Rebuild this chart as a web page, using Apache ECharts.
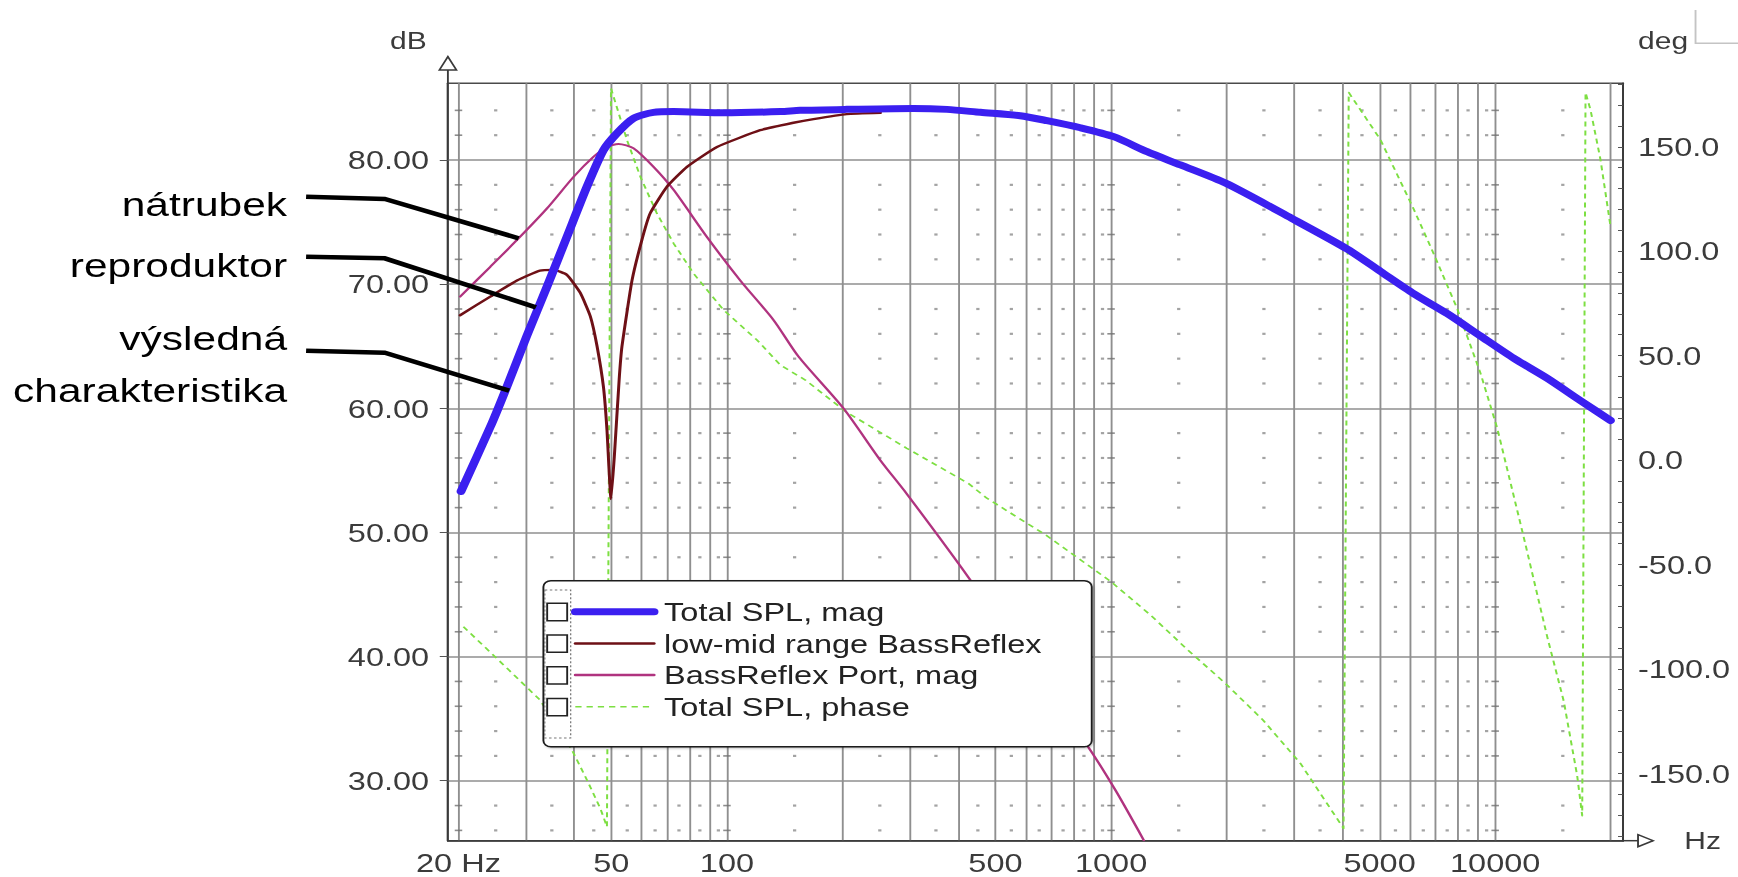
<!DOCTYPE html>
<html lang="cs">
<head>
<meta charset="utf-8">
<title>Total SPL - bass reflex</title>
<script src="https://cdn.jsdelivr.net/npm/echarts@6.0.0/dist/echarts.min.js"></script>
<style>
  html, body { margin: 0; padding: 0; background: #fff; overflow: hidden; }
  /* the source picture is stretched sideways, so draw narrower and widen it */
  #main { width: 1390px; height: 877px; transform: scaleX(1.2504); transform-origin: 0 0; }
</style>
</head>
<body>
<div id="main"></div>
<script>
// values, frequency in Hz
var totalFreq = [20.3, 24.2, 26.7, 30.1, 34.0, 38.3, 43.2, 47.7, 51.7, 57.1, 64.4, 72.6, 98, 138, 155, 205, 306, 374, 457, 580, 681, 832, 1016, 1241, 1516, 1991, 2953, 4118, 5027, 6138, 7499, 9157, 11180, 13660, 16670, 19970];
var totalDb = [53.3, 58.5, 61.7, 65.8, 69.8, 73.8, 77.85, 80.8, 82.15, 83.36, 83.84, 83.9, 83.8, 83.9, 84.0, 84.08, 84.16, 84.08, 83.84, 83.57, 83.17, 82.6, 81.88, 80.67, 79.6, 78.12, 75.3, 72.83, 71.03, 69.23, 67.63, 65.82, 64.03, 62.42, 60.62, 59.02];

var wooferFreq = [20.2, 24.2, 28.4, 32.6, 35.4, 38.3, 41.5, 44.1, 45.9, 47.7, 48.7, 49.9, 50.9, 52.4, 53.3, 56.6, 60.1, 63.1, 69.8, 78.7, 94.2, 122, 149, 168, 205, 251];
var wooferDb = [67.5, 69.0, 70.3, 71.1, 71.15, 70.75, 69.3, 67.4, 65.0, 61.7, 58.3, 52.7, 56.1, 62.3, 65.0, 70.3, 73.6, 75.7, 77.85, 79.45, 81.05, 82.4, 83.0, 83.3, 83.7, 83.8];

var portFreq = [20.2, 24.2, 28.7, 34.0, 39.9, 44.9, 48.7, 52.2, 57.1, 64.4, 72.6, 88.7, 108.3, 132.3, 153.7, 201, 251, 294, 425, 864, 1026, 1217];
var portDb = [69.0, 71.4, 73.7, 76.1, 78.65, 80.25, 81.05, 81.3, 80.95, 79.45, 77.6, 73.8, 70.3, 67.1, 64.15, 60.0, 55.8, 53.1, 46.4, 32.9, 29.25, 25.2];

var phaseFreq = [20.6, 24.9, 32.6, 39.5, 43.2, 46.8, 48.7, 49.9, 54.9, 59.5, 65.7, 72.6, 81.8, 98, 119.7, 137.7, 160, 204, 294, 425, 475, 676, 1000, 1266, 1585, 1985, 2485, 3112, 4029, 4157, 5027, 6138, 6920, 7962, 9157, 10120, 11870, 13660, 15090, 16350, 16850, 17190, 17710, 18800, 19970];
var phaseDeg = [-79.8, -94.2, -114.9, -138.9, -153.2, -166.8, -175.6, 178, 153.3, 135.7, 118.1, 103.8, 89.4, 71.8, 57.5, 45.5, 38.3, 23.1, 5.6, -11.2, -18.3, -35.9, -58.3, -74.2, -91, -107, -124.5, -145.3, -176.4, 176, 153.4, 120.1, 98.7, 72.5, 41.6, 15.4, -37, -84.6, -115.6, -151.2, -170.3, 176, 167.7, 143.9, 111.8];

// axes and grid
var freqMin = 18.77, freqMax = 21520;
var gridFreqs = [20, 30, 40, 50, 60, 70, 80, 90, 100, 200, 300, 400, 500, 600, 700, 800, 900, 1000, 2000, 3000, 4000, 5000, 6000, 7000, 8000, 9000, 10000, 20000];
var labelFreqs = [20, 50, 100, 500, 1000, 5000, 10000];
var dbTicks = [30, 40, 50, 60, 70, 80];
var degTicks = [-150, -100, -50, 0, 50, 100, 150];
var degMinorTicks = [-180, -170, -160, -150, -140, -130, -120, -110, -100, -90, -80, -70, -60, -50, -40, -30, -20, -10, 0, 10, 20, 30, 40, 50, 60, 70, 80, 90, 100, 110, 120, 130, 140, 150, 160, 170, 180];
var dotRows = [26, 28, 32, 34, 36, 38, 42, 44, 46, 48, 52, 54, 56, 58, 62, 64, 66, 68, 72, 74, 76, 78, 82, 84];
var dotFreqs = [25, 35, 45, 55, 65, 75, 85, 95, 150, 250, 350, 450, 550, 650, 750, 850, 950, 1500, 2500, 3500, 4500, 5500, 6500, 7500, 8500, 9500, 15000];
var crossFreqs = [20, 100, 1000, 10000];

var FONT = '"Liberation Sans", Arial, Helvetica, sans-serif';
var AXIS = '#3a3a3a';
var GRID = '#8f8f8f';

function toXY(freqs, vals) {
    return freqs.map(function (f, i) { return [Math.log10(f), vals[i]]; });
}
function gridMarks(freqs, rows) {
    var out = [];
    freqs.forEach(function (f) {
        rows.forEach(function (r) { out.push([Math.log10(f), r]); });
    });
    return out;
}
function lineSeries(name, freqs, vals, color, width, extra) {
    var s = {
        name: name, type: 'line', data: toXY(freqs, vals),
        symbol: 'none', showSymbol: false, color: color,
        lineStyle: { color: color, width: width, cap: 'round', join: 'round' }
    };
    for (var k in extra) s[k] = extra[k];
    return s;
}

var chart = echarts.init(document.getElementById('main'), null, { renderer: 'svg' });

var labelStyle = { fontFamily: FONT, fontSize: 26, color: '#3b3b3b' };
var rowY = [612, 643.7, 675.4, 707.1];

var phase = lineSeries('Total SPL, phase', phaseFreq, phaseDeg, '#7ddf42', 1.6, { yAxisIndex: 1 });
phase.lineStyle.type = [5, 4];
phase.lineStyle.cap = 'butt';

var option = {
    animation: false,
    grid: {
        left: 358.2, right: 92, top: 83.3, bottom: 36.3,
        show: true, borderColor: '#4a4a4a', borderWidth: 1.5,
        outerBoundsMode: 'none'
    },
    xAxis: {
        type: 'value',
        min: Math.log10(freqMin), max: Math.log10(freqMax),
        axisLine: { show: true, onZero: false, lineStyle: { color: AXIS, width: 1.5 } },
        axisTick: { show: false, customValues: gridFreqs.map(Math.log10) },
        splitLine: { show: true, lineStyle: { color: GRID, width: 1.5 } },
        axisLabel: Object.assign({
            customValues: labelFreqs.map(Math.log10),
            margin: 9,
            formatter: function (v) {
                var f = Math.round(Math.pow(10, v));
                return f === 20 ? '20 Hz' : String(f);
            }
        }, labelStyle),
        name: 'Hz', nameLocation: 'end', nameGap: 49,
        nameTextStyle: { fontFamily: FONT, fontSize: 24, color: '#3b3b3b', align: 'left', verticalAlign: 'middle', padding: [0, 0, 11, 0] }
    },
    yAxis: [{
        type: 'value', position: 'left', min: 25.17, max: 86.18,
        axisLine: { show: true, onZero: false, lineStyle: { color: AXIS, width: 1.5 } },
        axisTick: { show: true, customValues: dbTicks, length: 6.5, lineStyle: { color: '#555' } },
        splitLine: { show: true, lineStyle: { color: GRID, width: 1.5 } },
        axisLabel: Object.assign({
            customValues: dbTicks, margin: 15,
            formatter: function (v) { return v.toFixed(2); }
        }, labelStyle),
        name: 'dB', nameLocation: 'end', nameGap: 43,
        nameTextStyle: { fontFamily: FONT, fontSize: 24, color: '#3b3b3b', align: 'right', verticalAlign: 'middle', padding: [0, 17, 0, 0] }
    }, {
        type: 'value', position: 'right', min: -182.3, max: 180.4,
        axisLine: { show: true, onZero: false, lineStyle: { color: AXIS, width: 1.5 } },
        axisTick: { show: true, inside: true, length: 4, customValues: degMinorTicks, lineStyle: { color: '#555' } },
        splitLine: { show: false },
        axisLabel: Object.assign({
            customValues: degTicks, margin: 12,
            formatter: function (v) { return v.toFixed(1); }
        }, labelStyle),
        name: 'deg', nameLocation: 'end', nameGap: 43,
        nameTextStyle: { fontFamily: FONT, fontSize: 24, color: '#3b3b3b', align: 'left', verticalAlign: 'middle', padding: [0, 0, 0, 12] }
    }],
    legend: {
        orient: 'vertical', left: 434.6, top: 580.7,
        padding: [18, 40, 27, 22],
        itemWidth: 63, itemHeight: 20, itemGap: 5.7,
        backgroundColor: '#fff', borderColor: '#1a1a1a', borderWidth: 1.5, borderRadius: 6,
        shadowColor: 'rgba(0,0,0,0.25)', shadowBlur: 2, shadowOffsetX: 1, shadowOffsetY: 1,
        selectedMode: false,
        itemStyle: { opacity: 0 },
        textStyle: { fontFamily: FONT, fontSize: 26, color: '#222', lineHeight: 26, padding: [0, 0, 0, 3] },
        data: [
            { name: 'Total SPL, mag', lineStyle: { width: 7 } },
            { name: 'low-mid range BassReflex', lineStyle: { width: 2.5 } },
            { name: 'BassReflex Port, mag', lineStyle: { width: 2.5 } },
            { name: 'Total SPL, phase', lineStyle: { width: 1.6 } }
        ]
    },
    series: [
        { name: 'grid dots', type: 'scatter', silent: true, symbol: 'rect', symbolSize: [2.6, 2.2],
          itemStyle: { color: '#8c8c8c' }, data: gridMarks(dotFreqs, dotRows), z: 1 },
        { name: 'grid crosses', type: 'scatter', silent: true, symbol: 'rect', symbolSize: [6, 1.6],
          itemStyle: { color: '#707070' }, data: gridMarks(crossFreqs, dotRows), z: 1 },
        phase,
        lineSeries('BassReflex Port, mag', portFreq, portDb, '#b0337f', 2, { smooth: 0.25 }),
        lineSeries('low-mid range BassReflex', wooferFreq, wooferDb, '#6e1016', 2.4, { smooth: 0.15 }),
        lineSeries('Total SPL, mag', totalFreq, totalDb, '#3b1ff0', 7, { smooth: 0.25 })
    ],
    graphic: {
        elements: [
            // annotations
            { type: 'text', x: 229.6, y: 204.2, style: { text: 'nátrubek', fontFamily: FONT, fontSize: 34, fill: '#000', align: 'right', verticalAlign: 'middle' } },
            { type: 'text', x: 229.6, y: 264.9, style: { text: 'reproduktor', fontFamily: FONT, fontSize: 34, fill: '#000', align: 'right', verticalAlign: 'middle' } },
            { type: 'text', x: 229.6, y: 338.2, style: { text: 'výsledná', fontFamily: FONT, fontSize: 34, fill: '#000', align: 'right', verticalAlign: 'middle' } },
            { type: 'text', x: 229.6, y: 389.9, style: { text: 'charakteristika', fontFamily: FONT, fontSize: 34, fill: '#000', align: 'right', verticalAlign: 'middle' } },
            { type: 'polyline', z: 20, shape: { points: [[244.8, 196.7], [307.7, 199], [414.8, 238.3]] }, style: { stroke: '#000', lineWidth: 4.5, fill: null } },
            { type: 'polyline', z: 20, shape: { points: [[244.8, 256.7], [307.7, 258.3], [428.6, 307.3]] }, style: { stroke: '#000', lineWidth: 4.5, fill: null } },
            { type: 'polyline', z: 20, shape: { points: [[244.8, 350.7], [307.7, 352.7], [407.2, 390.7]] }, style: { stroke: '#000', lineWidth: 4.5, fill: null } },
            // axis arrows
            { type: 'polyline', shape: { points: [[358.2, 56.7], [358.2, 83.3]] }, style: { stroke: AXIS, lineWidth: 1.5 } },
            { type: 'polygon', shape: { points: [[351.4, 70], [358.2, 56.7], [365, 70]] }, style: { stroke: AXIS, fill: '#fff', lineWidth: 1.5 } },
            { type: 'polyline', shape: { points: [[1298, 840.7], [1322, 840.7]] }, style: { stroke: AXIS, lineWidth: 1.5 } },
            { type: 'polygon', shape: { points: [[1310, 834.7], [1322, 840.7], [1310, 846.7]] }, style: { stroke: AXIS, fill: '#fff', lineWidth: 1.5 } },
            { type: 'polyline', shape: { points: [[1356, 10], [1356, 43.3], [1390, 43.3]] }, style: { stroke: '#c4c4c4', lineWidth: 1.5, fill: null } },
            // legend check boxes
            { type: 'rect', z: 30, shape: { x: 435.7, y: 590, width: 20.7, height: 148 }, style: { stroke: '#777', lineWidth: 1, lineDash: [2, 2], fill: null } }
        ].concat(rowY.map(function (cy) {
            return { type: 'rect', z: 31, shape: { x: 437.6, y: cy - 8.65, width: 16, height: 17.3 }, style: { stroke: '#222', lineWidth: 1.5, fill: '#fff' } };
        }))
    }
};

chart.setOption(option);
</script>
</body>
</html>
